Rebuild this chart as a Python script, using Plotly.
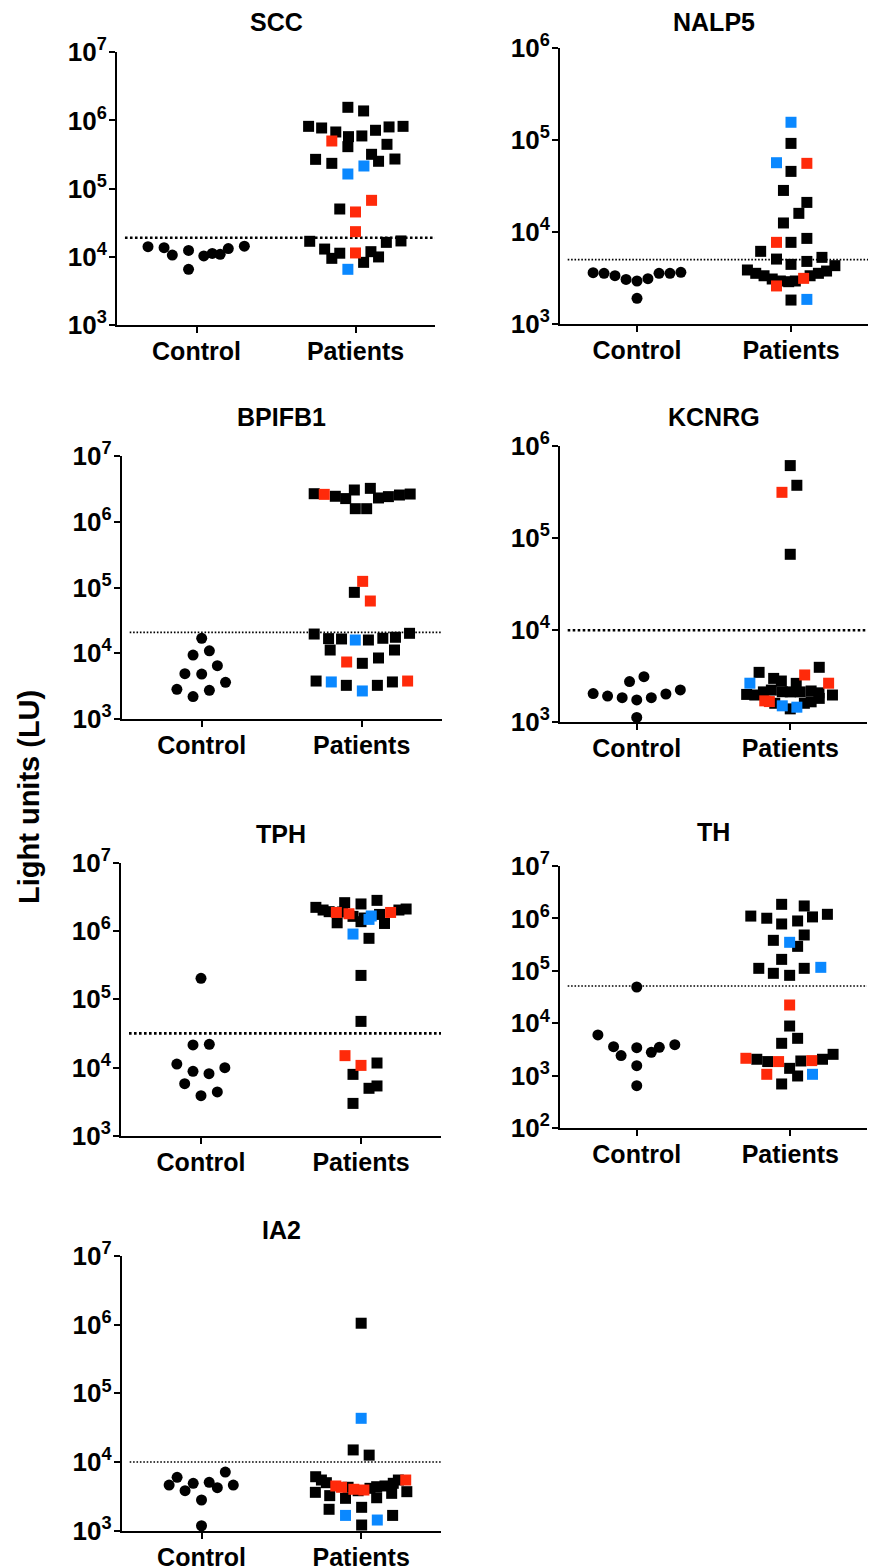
import plotly.graph_objects as go

# ---------------- data ----------------
categories = ["Control", "Patients"]
panel_names = ["SCC", "NALP5", "BPIFB1", "KCNRG", "TPH", "TH", "IA2"]

# SCC
scc_ctrl = [14100, 13600, 10600, 12400, 6560, 10300, 11200, 10900, 13200, 14300]
scc_ctrl_dx = [-0.305, -0.204, -0.152, -0.05, -0.05, 0.046, 0.099, 0.149, 0.2, 0.301]
scc_pat = [1.56e6, 1.38e6, 8.2e5, 7.76e5, 6.78e5, 5.79e5, 4.13e5, 5.93e5, 7.18e5, 8.04e5,
           8.2e5, 4.47e5, 3.19e5, 2.52e5, 2.72e5, 2.69e5, 2.35e5, 5.0e5, 1.64e5, 2.15e5,
           6.74e4, 5.03e4, 4.55e4, 2.34e4, 1.14e4, 1.69e4, 1.30e4, 9.5e3, 1.13e4, 6.56e3,
           8.3e3, 1.19e4, 9.96e3, 1.63e4, 1.71e4]
scc_pat_dx = [-0.048, 0.051, -0.295, -0.213, -0.124, -0.044, -0.048, 0.04, 0.126, 0.211,
              0.299, 0.198, 0.101, 0.145, 0.248, -0.251, -0.149, -0.149, -0.048, 0.053,
              0.101, -0.099, 0.0, 0.0, 0.0, -0.288, -0.194, -0.149, -0.099, -0.048,
              0.051, 0.097, 0.145, 0.194, 0.286]
scc_pat_grp = list("kkkkkkkkkkkkkkkkkrbbrkrrrkkkkbkkkkk")
scc_cutoff = 1.9e4

# NALP5
nalp5_ctrl = [3610, 3550, 3345, 3050, 2930, 3105, 3550, 3550, 3640, 1900]
nalp5_ctrl_dx = [-0.285, -0.214, -0.143, -0.071, 0.0, 0.071, 0.143, 0.214, 0.285, 0.0]
nalp5_pat = [1.55e5, 9.14e4, 5.64e4, 5.55e4, 4.54e4, 2.82e4, 2.09e4, 1.59e4, 1.25e4, 7.7e3,
             7.7e3, 8.5e3, 6.15e3, 5.07e3, 4.44e3, 4.78e3, 5.29e3,
             3.86e3, 3.55e3, 3.34e3, 3.08e3, 2.93e3, 2.88e3, 2.93e3, 3.13e3, 3.34e3, 3.55e3,
             3.76e3, 4.3e3, 2.59e3, 1.82e3, 1.85e3]
nalp5_pat_dx = [0.0, 0.0, -0.094, 0.103, 0.0, -0.049, 0.103, 0.051, -0.049, -0.094,
                0.0, 0.103, -0.197, -0.094, 0.0, 0.103, 0.201,
                -0.283, -0.229, -0.175, -0.122, -0.069, -0.015, 0.028, 0.082, 0.124, 0.178,
                0.231, 0.285, -0.094, 0.0, 0.103]
nalp5_pat_grp = list("bkbrkkkkkrkkkkkkk" "kkkkkkkrkkkk" "rkb")
nalp5_cutoff = 5.0e3

# BPIFB1
bpifb1_ctrl = [16900, 9400, 10900, 6470, 4890, 4830, 3610, 2830, 2730, 2190]
bpifb1_ctrl_dx = [0.0, -0.054, 0.048, 0.098, -0.105, 0.0, 0.149, -0.155, 0.048, -0.054]
bpifb1_pat = [2.67e6, 2.61e6, 2.44e6, 2.25e6, 3.04e6, 1.58e6, 1.58e6, 3.22e6, 2.3e6, 2.41e6,
              2.55e6, 2.64e6, 1.24e5, 8.44e4, 6.23e4, 1.96e4, 1.67e4, 1.65e4, 1.59e4, 1.59e4,
              1.69e4, 1.75e4, 2.01e4, 1.12e4, 1.12e4, 7.36e3, 7.03e3, 8.47e3, 3.78e3, 3.66e3,
              3.25e3, 2.67e3, 3.25e3, 3.66e3, 3.78e3]
bpifb1_pat_dx = [-0.297, -0.234, -0.165, -0.1, -0.046, -0.04, 0.031, 0.054, 0.105, 0.167,
                 0.236, 0.303, 0.006, -0.046, 0.054, -0.297, -0.207, -0.126, -0.04, 0.042,
                 0.132, 0.211, 0.299, -0.197, 0.205, -0.094, 0.004, 0.105, -0.285, -0.19,
                 -0.096, 0.004, 0.098, 0.192, 0.287]
bpifb1_pat_grp = list("krkkkkkkkkkk" "rkr" "kkkbkkkkkk" "rkk" "kbkbkkr")
bpifb1_cutoff = 2.08e4

# KCNRG
kcnrg_ctrl = [2050, 1930, 1850, 1750, 1850, 2030, 2250, 2770, 3130, 1130]
kcnrg_ctrl_dx = [-0.284, -0.19, -0.095, 0.0, 0.095, 0.19, 0.284, -0.047, 0.047, 0.0]
kcnrg_pat = [6.17e5, 3.77e5, 3.16e5, 6.7e4,
             3.49e3, 3.96e3, 3.27e3, 2.66e3, 2.66e3, 3.0e3, 2.81e3, 2.65e3,
             2.01e3, 1.98e3, 2.14e3, 2.24e3, 2.15e3, 2.14e3, 2.14e3, 2.19e3, 2.09e3, 1.98e3,
             1.71e3, 1.68e3, 1.61e3, 1.51e3, 1.40e3, 1.46e3, 1.61e3, 1.67e3, 1.82e3]
kcnrg_pat_dx = [0.0, 0.043, -0.054, 0.0,
                -0.203, 0.189, 0.094, -0.263, 0.25, -0.108, -0.058, 0.039,
                -0.284, -0.231, -0.175, -0.123, -0.052, 0.0, 0.065, 0.136, 0.187, 0.275,
                -0.166, -0.136, -0.101, -0.052, 0.0, 0.043, 0.092, 0.136, 0.189]
kcnrg_pat_grp = list("kkrk" "kkrbrkkk" "kkkkkkkkkk" "rrkbkbkkk")
kcnrg_cutoff = 1.0e4

# TPH
tph_ctrl = [2.03e5, 2.15e4, 2.2e4, 1.13e4, 8840, 8160, 1.0e4, 5830, 4410, 3890]
tph_ctrl_dx = [0.0, -0.05, 0.052, -0.151, -0.05, 0.05, 0.149, -0.102, 0.102, 0.0]
tph_pat = [2.22e6, 2.03e6, 1.92e6, 2.6e6, 2.49e6, 2.81e6, 1.87e6, 1.79e6, 1.64e6, 1.37e6,
           1.32e6, 1.48e6, 1.66e6, 1.75e6, 1.87e6, 1.29e6, 2.03e6, 2.1e6, 1.9e6, 1.55e6,
           9.03e5, 7.82e5, 2.24e5, 4.76e4, 1.5e4, 1.08e4, 1.17e4, 7.98e3, 4.99e3, 5.4e3, 3.0e3]
tph_pat_dx = [-0.282, -0.237, -0.199, -0.102, 0.0, 0.1, -0.154, -0.075, -0.05, 0.0,
              -0.149, 0.05, 0.064, 0.116, 0.185, 0.147, 0.237, 0.282, -0.115, 0.02,
              -0.05, 0.05, 0.0, 0.0, -0.1, 0.0, 0.1, -0.05, 0.05, 0.1, -0.05]
tph_pat_grp = list("kkkkkkrrkkkbbkrkkkkk" "bkkkrrkkkkk")
tph_cutoff = 3.18e4

# TH
th_ctrl = [49400, 6010, 3600, 2430, 3440, 2810, 3500, 3930, 1560, 650]
th_ctrl_dx = [0.0, -0.253, -0.151, -0.102, 0.0, 0.095, 0.147, 0.248, 0.0, 0.0]
th_pat = [1.86e6, 1.73e6, 1.11e6, 1.01e6, 7.85e5, 8.96e5, 1.07e6, 1.2e6, 3.83e5, 3.51e5,
          4.84e5, 2.94e5, 1.66e5, 1.12e5, 9.0e4, 8.24e4, 1.12e5, 1.17e5, 2.24e4, 8.9e3,
          5.19e3, 4.17e3, 2.16e3, 2.07e3, 1.87e3, 1.87e3, 1.92e3, 1.95e3, 2.07e3, 2.57e3,
          1.39e3, 1.07e3, 994, 1.07e3, 700]
th_pat_dx = [-0.056, 0.091, -0.257, -0.153, -0.056, 0.048, 0.145, 0.242, -0.11, -0.004,
             0.091, 0.048, -0.056, -0.205, -0.11, -0.004, 0.091, 0.199, -0.004, -0.004,
             0.048, -0.056, -0.289, -0.218, -0.147, -0.076, 0.069, 0.14, 0.21, 0.279,
             -0.004, -0.153, 0.048, 0.145, -0.056]
th_pat_grp = list("kkkkkkkkkbkkkkkkkb" "rkkk" "rkkrkrkk" "krkbk")
th_cutoff = 5.16e4

# IA2
ia2_ctrl = [4620, 5980, 3830, 4890, 5060, 4230, 7140, 4620, 2800, 1180]
ia2_ctrl_dx = [-0.203, -0.153, -0.103, -0.052, 0.048, 0.099, 0.149, 0.199, 0.0, 0.0]
ia2_pat = [1.05e6, 4.33e4, 1.5e4, 1.26e4,
           6.11e3, 5.47e3, 5.0e3, 4.48e3, 4.29e3, 4.29e3, 4.01e3, 3.82e3, 3.91e3, 4.14e3,
           4.37e3, 4.48e3, 4.9e3, 5.47e3, 5.47e3,
           3.62e3, 3.24e3, 2.96e3, 3.02e3, 3.5e3, 3.7e3,
           2.05e3, 2.19e3, 1.67e3, 1.67e3, 1.43e3, 1.21e3]
ia2_pat_dx = [0.0, 0.0, -0.05, 0.05,
              -0.285, -0.249, -0.218, -0.159, -0.123, -0.082, -0.046, -0.019, 0.017, 0.055,
              0.097, 0.149, 0.201, 0.233, 0.279,
              -0.287, -0.197, -0.098, 0.097, 0.191, 0.286,
              -0.201, 0.003, -0.098, 0.197, 0.101, 0.003]
ia2_pat_grp = list("kbkk" "kkkrrkrkrkkkkkr" "kkkkkk" "kkbkbk")
ia2_cutoff = 1.0e4

panel_data = [
    (scc_ctrl, scc_ctrl_dx, scc_pat, scc_pat_dx, scc_pat_grp, scc_cutoff),
    (nalp5_ctrl, nalp5_ctrl_dx, nalp5_pat, nalp5_pat_dx, nalp5_pat_grp, nalp5_cutoff),
    (bpifb1_ctrl, bpifb1_ctrl_dx, bpifb1_pat, bpifb1_pat_dx, bpifb1_pat_grp, bpifb1_cutoff),
    (kcnrg_ctrl, kcnrg_ctrl_dx, kcnrg_pat, kcnrg_pat_dx, kcnrg_pat_grp, kcnrg_cutoff),
    (tph_ctrl, tph_ctrl_dx, tph_pat, tph_pat_dx, tph_pat_grp, tph_cutoff),
    (th_ctrl, th_ctrl_dx, th_pat, th_pat_dx, th_pat_grp, th_cutoff),
    (ia2_ctrl, ia2_ctrl_dx, ia2_pat, ia2_pat_dx, ia2_pat_grp, ia2_cutoff),
]

# ---------------- layout spec (pixels) ----------------
W, H = 869, 1568
# (x_left, x_right, y_top, y_bottom, log_lo, log_hi, title_center_y, thick_cutoff_line)
boxes = [
    (117.0, 435.0, 52.3, 325.0, 3, 7, 22, True),
    (560.0, 868.0, 47.7, 324.0, 3, 6, 22, False),
    (121.7, 441.7, 456.0, 719.0, 3, 7, 417, False),
    (560.0, 867.0, 446.3, 722.3, 3, 6, 417, True),
    (121.0, 441.0, 862.7, 1136.0, 3, 7, 834, True),
    (560.0, 867.0, 866.0, 1128.3, 2, 7, 832, False),
    (121.7, 441.0, 1256.0, 1530.7, 3, 7, 1230, False),
]

FONT = "Liberation Sans"
BLACK = "#000000"
RED = "#FF2A0A"
BLUE = "#0A88FF"
grp_color = {"k": BLACK, "r": RED, "b": BLUE}

fig = go.Figure()
layout = dict(
    template="none",
    width=W, height=H, autosize=False,
    margin=dict(l=0, r=0, t=0, b=0, pad=0),
    paper_bgcolor="white", plot_bgcolor="white",
    showlegend=False,
    annotations=[],
)

for i, (name, dat, box) in enumerate(zip(panel_names, panel_data, boxes), start=1):
    ctrl, ctrl_dx, pat, pat_dx, grp, cutoff = dat
    xl, xr, yt, yb, lo, hi, ty, thick = box
    xa = "x" if i == 1 else f"x{i}"
    ya = "y" if i == 1 else f"y{i}"

    # cutoff line
    if thick:
        line = dict(color=BLACK, width=2.6, dash="2.6px,2.4px")
    else:
        line = dict(color=BLACK, width=1.6, dash="1.6px,1.8px")
    fig.add_trace(go.Scatter(x=[0.55, 2.5], y=[cutoff, cutoff], mode="lines",
                             line=line, xaxis=xa, yaxis=ya, hoverinfo="skip"))

    # controls (circles)
    fig.add_trace(go.Scatter(
        x=[1 + d for d in ctrl_dx], y=ctrl, mode="markers",
        marker=dict(symbol="circle", size=11, color=BLACK, line=dict(width=0)),
        xaxis=xa, yaxis=ya, cliponaxis=False))

    # patients (squares), black first then coloured on top
    for g in ["k", "r", "b"]:
        xs = [2 + d for d, gg in zip(pat_dx, grp) if gg == g]
        ys = [v for v, gg in zip(pat, grp) if gg == g]
        if not xs:
            continue
        fig.add_trace(go.Scatter(
            x=xs, y=ys, mode="markers",
            marker=dict(symbol="square", size=11, color=grp_color[g], line=dict(width=0)),
            xaxis=xa, yaxis=ya, cliponaxis=False))

    key_x = "xaxis" if i == 1 else f"xaxis{i}"
    key_y = "yaxis" if i == 1 else f"yaxis{i}"
    layout[key_x] = dict(
        domain=[xl / W, xr / W], anchor=ya, range=[0.5, 2.5], automargin=False,
        tickmode="array", tickvals=[1, 2], ticktext=categories,
        showline=True, linewidth=2, linecolor=BLACK, mirror=False,
        ticks="outside", ticklen=6, tickwidth=2, tickcolor=BLACK,
        ticklabelstandoff=-3,
        showgrid=False, zeroline=False, fixedrange=True,
        tickfont=dict(family=FONT, size=25, color=BLACK, weight="bold"),
    )
    decades = list(range(lo, hi + 1))
    layout[key_y] = dict(
        domain=[1 - yb / H, 1 - yt / H], anchor=xa, type="log", range=[lo, hi],
        automargin=False,
        tickmode="array", tickvals=[10 ** d for d in decades],
        ticktext=[f"10<sup>{d}</sup>" for d in decades],
        showline=True, linewidth=2, linecolor=BLACK,
        ticks="outside", ticklen=6, tickwidth=2, tickcolor=BLACK,
        ticklabelstandoff=-3,
        showgrid=False, zeroline=False, fixedrange=True,
        tickfont=dict(family=FONT, size=26, color=BLACK, weight="bold"),
    )
    layout["annotations"].append(dict(
        text=name, x=(xl + xr) / 2 / W, y=1 - ty / H, xref="paper", yref="paper",
        xanchor="center", yanchor="middle", showarrow=False,
        font=dict(family=FONT, size=25, color=BLACK, weight="bold")))

layout["annotations"].append(dict(
    text="Light units (LU)", x=29 / W, y=1 - 797 / H, xref="paper", yref="paper",
    xanchor="center", yanchor="middle", showarrow=False, textangle=-90,
    font=dict(family=FONT, size=29, color=BLACK, weight="bold")))

fig.update_layout(**layout)
fig.write_html("out.html")
